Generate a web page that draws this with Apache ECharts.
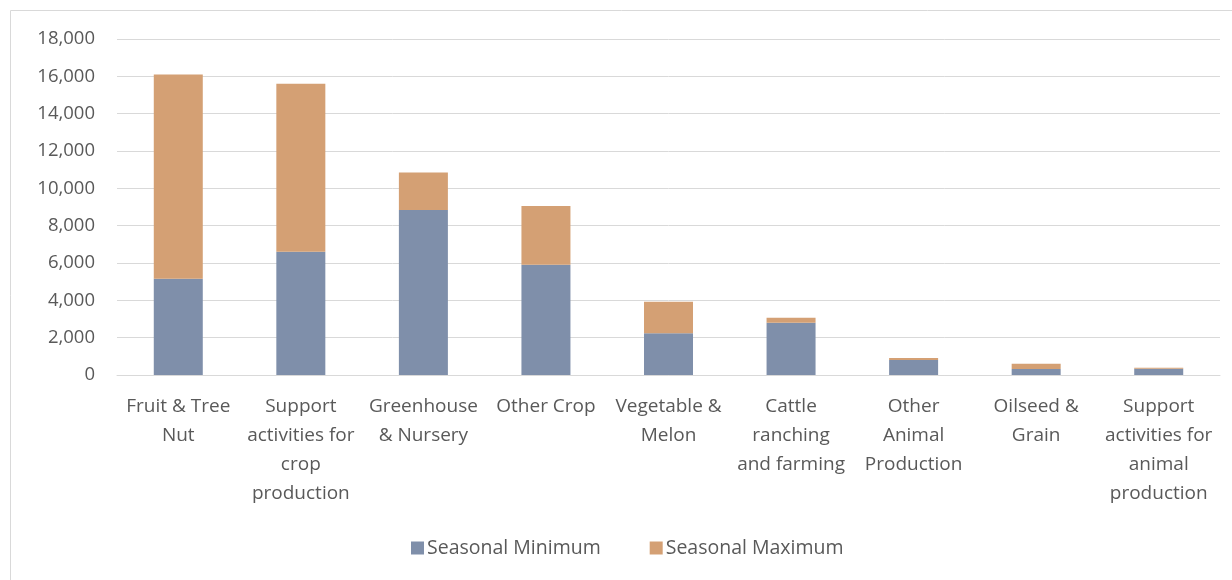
<!DOCTYPE html>
<html><head><meta charset="utf-8">
<script src="https://cdn.jsdelivr.net/npm/echarts@6/dist/echarts.min.js"></script>
<style>html,body{margin:0;padding:0;background:#fff}#c{width:1232px;height:580px}</style>
</head><body><div id="c"></div>
<script>
const categories = ["Fruit & Tree\nNut","Support\nactivities for\ncrop\nproduction","Greenhouse\n& Nursery","Other Crop","Vegetable &\nMelon","Cattle\nranching\nand farming","Other\nAnimal\nProduction","Oilseed &\nGrain","Support\nactivities for\nanimal\nproduction"];
const seasonalMinimum = [5150, 6600, 8840, 5900, 2230, 2800, 800, 320, 330];
const seasonalMaximum = [10950, 9000, 2010, 3150, 1700, 270, 110, 280, 60];
const yTicks = [0, 2000, 4000, 6000, 8000, 10000, 12000, 14000, 16000, 18000];

const chart = echarts.init(document.getElementById('c'), null, {renderer:'canvas'});
const font = '"Open Sans", sans-serif';
chart.setOption({
  animation:false,
  graphic:[{type:'rect', shape:{x:10.5,y:10.5,width:1240,height:600}, style:{fill:'none',stroke:'#d9d9d9',lineWidth:1}, z:-1}],
  grid:{left:117, right:12, top:39, bottom:205, containLabel:false},
  legend:{top:533, left:406, itemWidth:13, itemHeight:13, itemGap:49, icon:'rect',
    textStyle:{fontFamily:font, fontSize:19.5, color:'#595959', padding:[0,0,0,-2]},
    data:['Seasonal Minimum','Seasonal Maximum']},
  xAxis:{type:'category', data:categories,
    axisLine:{lineStyle:{color:'#d9d9d9'}}, axisTick:{show:false},
    axisLabel:{fontFamily:font, fontSize:19, color:'#595959', lineHeight:29, margin:17, interval:0, align:'center', verticalAlign:'top'}},
  yAxis:{type:'value', min:yTicks[0], max:yTicks[yTicks.length-1], interval:2000,
    axisLine:{show:false}, axisTick:{show:false},
    splitLine:{lineStyle:{color:'#d9d9d9', width:1}},
    axisLabel:{fontFamily:font, fontSize:18.5, color:'#595959', margin:22,
      formatter:v=>v.toLocaleString('en-US')}},
  series:[
    {name:'Seasonal Minimum', type:'bar', stack:'a', data:seasonalMinimum, barWidth:49,
     itemStyle:{color:'#7f8faa'}},
    {name:'Seasonal Maximum', type:'bar', stack:'a', data:seasonalMaximum, barWidth:49,
     itemStyle:{color:'#d4a074'}}
  ]
});
</script></body></html>
